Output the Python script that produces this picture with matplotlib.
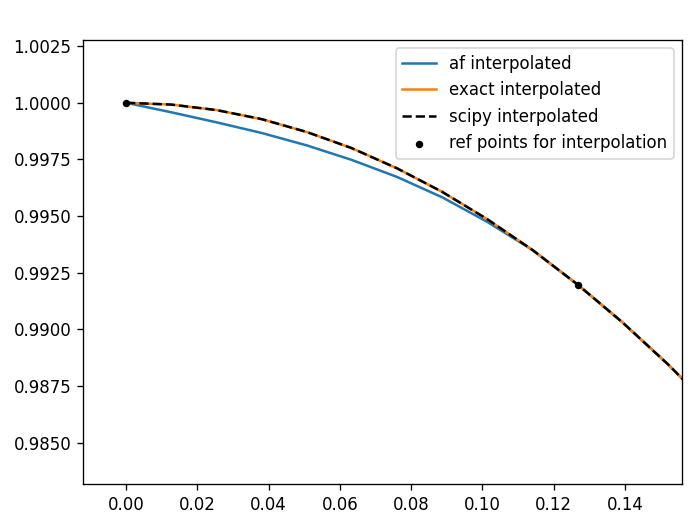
import matplotlib
matplotlib.use("Agg")
import matplotlib.pyplot as plt

# sample positions
x_vals = [0.0, 0.0127, 0.0253, 0.038, 0.0507, 0.0633, 0.076, 0.0887,
          0.1013, 0.114, 0.1267, 0.1393, 0.152, 0.1647]
af_vals = [1.0, 0.99958, 0.99914, 0.99867, 0.99812, 0.99748, 0.99673,
           0.99583, 0.99475, 0.99351, 0.99198, 0.99031, 0.98847, 0.98647]
exact_vals = [1.0, 0.99992, 0.99968, 0.99928, 0.99871, 0.99800, 0.99711,
              0.99607, 0.99487, 0.99351, 0.99198, 0.99031, 0.98847, 0.98647]
scipy_vals = [1.0, 0.99992, 0.99968, 0.99928, 0.99871, 0.99800, 0.99711,
              0.99607, 0.99487, 0.99351, 0.99198, 0.99031, 0.98847, 0.98647]

ref_x = [0.0, 0.1267]
ref_y = [1.0, 0.99198]

fig = plt.figure(figsize=(700 / 120, 527 / 120), dpi=120)
ax = fig.add_axes([83 / 700, 43 / 527, 599 / 700, 444 / 527])

ax.plot(x_vals, af_vals, label='af interpolated')
ax.plot(x_vals, exact_vals, label='exact interpolated')
ax.plot(x_vals, scipy_vals, 'k--', label='scipy interpolated')
ax.scatter(ref_x, ref_y, s=12, c='k', zorder=3, label='ref points for interpolation')

ax.set_xlim(-0.0121, 0.156)
ax.set_ylim(0.98318, 1.00277)
ax.set_xticks([0.0, 0.02, 0.04, 0.06, 0.08, 0.10, 0.12, 0.14])
ax.set_yticks([0.985, 0.9875, 0.99, 0.9925, 0.995, 0.9975, 1.0, 1.0025])
ax.legend(loc='upper right')

fig.savefig('out.png', dpi=120)
